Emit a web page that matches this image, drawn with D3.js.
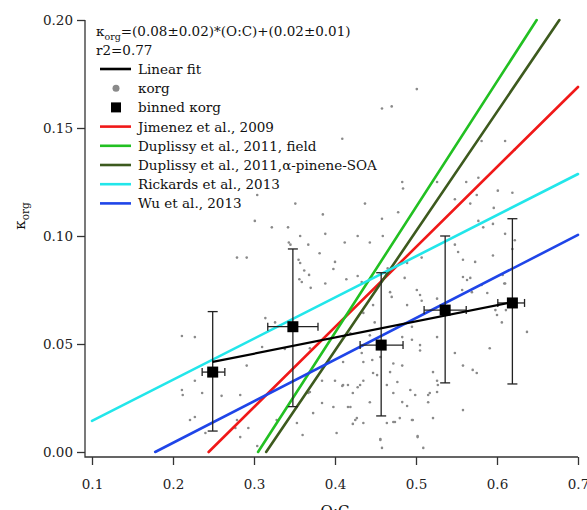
<!DOCTYPE html>
<html><head><meta charset="utf-8">
<script src="https://cdn.jsdelivr.net/npm/d3@7"></script>
<style>body{margin:0;background:#fff}svg{display:block}svg text{font-family:"DejaVu Serif","Liberation Serif",serif !important}</style>
</head><body><svg id="c" width="587" height="510"></svg>
<script>
// ---- data (O:C, kappa_org) ----
const scatterOC = [0.501,0.458,0.470,0.409,0.581,0.610,0.304,0.351,0.385,0.301,0.322,0.342,0.388,0.279,0.291,0.357,0.381,0.400,0.398,0.356,0.359,0.388,0.314,0.326,0.211,0.227,0.310,0.338,0.369,0.291,0.227,0.400,0.384,0.211,0.212,0.236,0.283,0.367,0.384,0.221,0.227,0.279,0.328,0.277,0.293,0.373,0.353,0.283,0.360,0.402,0.398,0.240,0.260,0.304,0.369,0.409,0.416,0.422,0.428,0.416,0.427,0.422,0.435,0.456,0.458,0.472,0.483,0.489,0.472,0.480,0.496,0.521,0.502,0.509,0.515,0.526,0.527,0.483,0.484,0.526,0.562,0.577,0.437,0.478,0.458,0.548,0.575,0.601,0.567,0.596,0.412,0.443,0.459,0.428,0.583,0.610,0.414,0.428,0.433,0.465,0.486,0.489,0.507,0.548,0.552,0.558,0.573,0.595,0.619,0.558,0.563,0.567,0.581,0.607,0.501,0.505,0.507,0.526,0.557,0.569,0.588,0.468,0.447,0.470,0.489,0.435,0.449,0.480,0.495,0.443,0.483,0.419,0.495,0.526,0.505,0.505,0.433,0.446,0.456,0.410,0.435,0.472,0.483,0.447,0.452,0.468,0.435,0.431,0.410,0.464,0.477,0.493,0.517,0.521,0.526,0.548,0.570,0.575,0.558,0.591,0.419,0.443,0.499,0.515,0.558,0.425,0.474,0.495,0.464,0.456,0.502,0.637,0.609,0.611,0.598,0.600,0.606,0.577,0.595,0.622,0.619,0.610,0.622,0.343,0.345,0.357,0.367,0.355,0.362,0.368,0.370];
const scatterK = [0.168,0.159,0.160,0.145,0.144,0.144,0.119,0.115,0.110,0.107,0.104,0.104,0.101,0.090,0.090,0.0875,0.092,0.088,0.0847,0.080,0.0787,0.078,0.062,0.060,0.0537,0.0532,0.0486,0.0477,0.048,0.040,0.033,0.033,0.033,0.0287,0.0264,0.0273,0.0264,0.0273,0.0227,0.0148,0.0162,0.0148,0.0148,0.0111,0.0111,0.018,0.0134,0.0069,0.0079,0.0088,0.0208,0.0088,0.026,0.0028,0.0278,0.0306,0.031,0.0273,0.030,0.0208,0.0157,0.013,0.0134,0.006,0.0019,0.0273,0.0231,0.0213,0.0139,0.0157,0.0148,0.0157,0.0074,0.0019,0.0264,0.0278,0.031,0.125,0.122,0.125,0.125,0.127,0.115,0.111,0.108,0.117,0.119,0.121,0.115,0.113,0.097,0.097,0.100,0.100,0.104,0.101,0.080,0.0815,0.0787,0.085,0.0806,0.0875,0.090,0.096,0.0926,0.089,0.088,0.091,0.094,0.081,0.0796,0.0806,0.0773,0.082,0.075,0.0727,0.070,0.071,0.075,0.074,0.0736,0.074,0.068,0.0718,0.068,0.0644,0.060,0.0588,0.058,0.054,0.0532,0.055,0.052,0.0532,0.0495,0.047,0.0458,0.0426,0.044,0.0417,0.0417,0.041,0.040,0.0366,0.0356,0.037,0.033,0.031,0.031,0.031,0.0324,0.0287,0.0273,0.037,0.033,0.0458,0.038,0.0366,0.040,0.048,0.0208,0.023,0.0264,0.023,0.0194,0.0148,0.0139,0.0148,0.0134,0.0056,0.0069,0.0556,0.078,0.0657,0.0657,0.0634,0.060,0.107,0.1056,0.140,0.120,0.078,0.098,0.097,0.096,0.100,0.096,0.089,0.084,0.082,0.076];

const binOC = [0.249, 0.348, 0.457, 0.536, 0.619];
const binK = [0.037, 0.058, 0.0495, 0.0657, 0.069];
const binKLow = [0.0097, 0.021, 0.0167, 0.032, 0.0315];
const binKHigh = [0.065, 0.094, 0.083, 0.100, 0.108];
const binOCLow = [0.236, 0.317, 0.431, 0.510, 0.601];
const binOCHigh = [0.264, 0.379, 0.484, 0.562, 0.634];

const fitOC = [0.249, 0.619];
const fitK = [0.0417, 0.0694];

const refNames = ["Jimenez et al., 2009", "Duplissy et al., 2011, field", "Duplissy et al., 2011,\u03b1-pinene-SOA", "Rickards et al., 2013", "Wu et al., 2013"];
const refColors = ["#f01818", "#22c022", "#3d5a1e", "#22e6ea", "#1f45e8"];
const refOC = [[0.244, 0.700], [0.305, 0.649], [0.315, 0.677], [0.100, 0.700], [0.178, 0.700]];
const refK = [[0.000, 0.169], [0.000, 0.200], [0.000, 0.200], [0.0144, 0.1287], [0.000, 0.1005]];

const xTicks = [0.1, 0.2, 0.3, 0.4, 0.5, 0.6, 0.7];
const yTicks = [0.00, 0.05, 0.10, 0.15, 0.20];

// ---- drawing ----
const svg = d3.select("#c");
const x = d3.scaleLinear().domain([0.1, 0.7]).range([92, 578]);
const y = d3.scaleLinear().domain([0, 0.2]).range([452, 20]);
const axisX = 85, axisY = 457;

// axes
const gy = svg.append("g").attr("transform", `translate(${axisX},0)`)
  .call(d3.axisLeft(y).tickValues(yTicks).tickFormat(d3.format(".2f")).tickSize(8).tickPadding(4));
const gx = svg.append("g").attr("transform", `translate(0,${axisY})`)
  .call(d3.axisBottom(x).tickValues(xTicks).tickFormat(d3.format(".1f")).tickSize(8).tickPadding(14));
[gx, gy].forEach(g => {
  g.attr("font-size", 13.5);
  g.select(".domain").remove();
  g.selectAll("line").attr("stroke", "#333").attr("stroke-width", 1.3);
  g.selectAll("text").attr("fill", "#222");
});
svg.append("path").attr("d", `M${axisX},${y(0.2)}V${axisY}H${x(0.7)}`)
  .attr("fill", "none").attr("stroke", "#333").attr("stroke-width", 1.3);

// scatter
svg.append("g").selectAll("circle").data(scatterOC).join("circle")
  .attr("cx", d => x(d)).attr("cy", (d, i) => y(scatterK[i])).attr("r", 1.3).attr("fill", "#8a8a8a");

// reference lines
refOC.forEach((oc, i) => {
  svg.append("line").attr("x1", x(oc[0])).attr("y1", y(refK[i][0])).attr("x2", x(oc[1])).attr("y2", y(refK[i][1]))
    .attr("stroke", refColors[i]).attr("stroke-width", 2.6).attr("stroke-linecap", "round");
});

// error bars
const eb = svg.append("g").attr("stroke", "#222").attr("stroke-width", 1.3);
binOC.forEach((oc, i) => {
  eb.append("line").attr("x1", x(oc)).attr("x2", x(oc)).attr("y1", y(binKLow[i])).attr("y2", y(binKHigh[i]));
  eb.append("line").attr("x1", x(oc) - 5).attr("x2", x(oc) + 5).attr("y1", y(binKLow[i])).attr("y2", y(binKLow[i]));
  eb.append("line").attr("x1", x(oc) - 5).attr("x2", x(oc) + 5).attr("y1", y(binKHigh[i])).attr("y2", y(binKHigh[i]));
  eb.append("line").attr("x1", x(binOCLow[i])).attr("x2", x(binOCHigh[i])).attr("y1", y(binK[i])).attr("y2", y(binK[i]));
  eb.append("line").attr("x1", x(binOCLow[i])).attr("x2", x(binOCLow[i])).attr("y1", y(binK[i]) - 4).attr("y2", y(binK[i]) + 4);
  eb.append("line").attr("x1", x(binOCHigh[i])).attr("x2", x(binOCHigh[i])).attr("y1", y(binK[i]) - 4).attr("y2", y(binK[i]) + 4);
});

// fit line
svg.append("line").attr("x1", x(fitOC[0])).attr("y1", y(fitK[0])).attr("x2", x(fitOC[1])).attr("y2", y(fitK[1]))
  .attr("stroke", "#000").attr("stroke-width", 2.2);

// binned squares
svg.append("g").selectAll("rect").data(binOC).join("rect")
  .attr("x", d => x(d) - 5.5).attr("y", (d, i) => y(binK[i]) - 5.5).attr("width", 11).attr("height", 11).attr("fill", "#000");

// legend
const fs = 13.5;
const T = sel => sel.attr("fill", "#111");
const t1 = svg.append("text").attr("x", 96).attr("y", 36).attr("font-size", fs).call(T);
t1.append("tspan").text("\u03ba");
t1.append("tspan").attr("font-size", 9.5).attr("dy", 4).text("org");
t1.append("tspan").attr("dy", -4).text("=(0.08\u00b10.02)*(O:C)+(0.02\u00b10.01)");
svg.append("text").attr("x", 96).attr("y", 55).attr("font-size", fs).call(T).text("r2=0.77");

const legItems = [
  {name: "Linear fit", type: "line", color: "#000"},
  {name: "\u03baorg", type: "dot", color: "#8a8a8a"},
  {name: "binned \u03baorg", type: "square", color: "#000"}
].concat(refNames.map((n, i) => ({name: n, type: "line", color: refColors[i]})));
legItems.forEach((it, i) => {
  const cy = 69 + 19.2 * i;
  if (it.type === "line") svg.append("line").attr("x1", 100).attr("x2", 131).attr("y1", cy).attr("y2", cy).attr("stroke", it.color).attr("stroke-width", 2.6);
  else if (it.type === "dot") svg.append("circle").attr("cx", 116).attr("cy", cy).attr("r", 3.5).attr("fill", it.color);
  else svg.append("rect").attr("x", 111).attr("y", cy - 5).attr("width", 10).attr("height", 10).attr("fill", it.color);
  svg.append("text").attr("x", 138).attr("y", cy + 5).attr("font-size", fs).call(T).text(it.name);
});

// axis titles
const yl = svg.append("text").attr("transform", "translate(25,216) rotate(-90)").attr("text-anchor", "middle").attr("font-size", 15).call(T);
yl.append("tspan").text("\u03ba");
yl.append("tspan").attr("font-size", 10.5).attr("dy", 4).text("org");
svg.append("text").attr("x", 335).attr("y", 516).attr("text-anchor", "middle").attr("font-size", 15).call(T).text("O:C");
</script></body></html>
